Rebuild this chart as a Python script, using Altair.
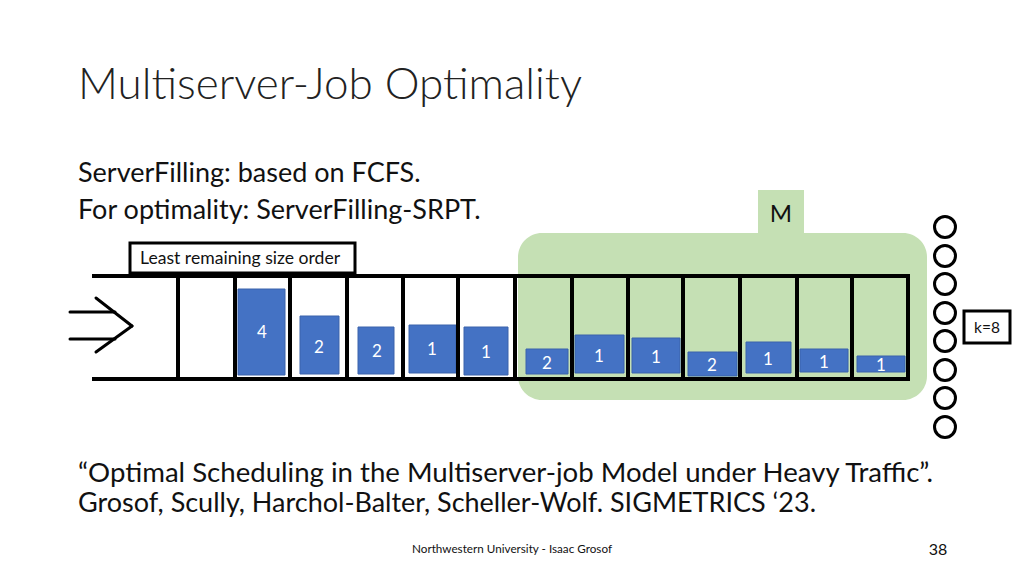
import altair as alt
import pandas as pd

FONT = "Lato"

# ---- geometry (pixel coordinates, y grows downward) ----
slot_edges = [178, 235, 290, 347, 403, 458, 515, 572, 628, 683, 740, 797, 852, 908]
queue_top, queue_bottom = 276, 379
queue_left, queue_right = 92, 910

job_sizes = [4, 2, 2, 1, 1, 2, 1, 1, 2, 1, 1, 1]
job_x0 = [238, 300, 358, 409, 464, 526, 575, 632, 688, 746, 800, 857]
job_x1 = [285, 339, 394, 456, 508, 568, 624, 680, 737, 791, 848, 905]
job_top = [289, 316, 327, 325, 327, 349, 335, 338, 352, 342, 349, 356]
job_bottom = [375, 374, 374, 373, 375, 374, 373, 373, 376, 373, 372, 372]
label_x = [262, 319, 377, 432, 486, 547, 599, 656, 712, 768, 824, 881]
label_y = [338, 353, 357, 355, 358, 369, 362, 363, 371, 365, 368, 371]

circle_x = 945
circle_y = [227, 256, 284, 313, 341, 370, 398, 427]

arrow_x0 = [70, 70, 96, 132]
arrow_y0 = [312, 339, 298, 326]
arrow_x1 = [115, 115, 132, 96]
arrow_y1 = [312, 339, 326, 352]

green_box = dict(x0=518, x1=927, y0=233, y1=400)
m_tab = dict(x0=758, x1=804, y0=190, y1=234)
order_box = dict(x0=130, x1=355, y0=243, y1=273)
k_box = dict(x0=964, x1=1010, y0=311, y1=343)

left_texts = ["ServerFilling: based on FCFS.",
              "For optimality: ServerFilling-SRPT.",
              "\u201cOptimal Scheduling in the Multiserver-job Model under Heavy Traffic\u201d.",
              "Grosof, Scully, Harchol-Balter, Scheller-Wolf. SIGMETRICS \u201823.",
              "Least remaining size order"]
left_x = [78, 78, 78, 78, 140]
left_y = [182, 219, 482, 512, 264]
left_fs = [27, 27, 27.6, 27, 17.6]

title_text = "Multiserver-Job Optimality"

center_texts = ["M", "k=8", "Northwestern University - Isaac Grosof", "38"]
center_x = [781, 987, 512, 938]
center_y = [222, 333, 553, 555]
center_fs = [24, 15.5, 11.7, 16]

# ---- scales: chart origin sits at page (8, 8) ----
xs = alt.Scale(domain=[8, 1016], nice=False, zero=False)
ys = alt.Scale(domain=[568, 8], nice=False, zero=False)


def X(f):
    return alt.X(f, type="quantitative", scale=xs, axis=None)


def Y(f):
    return alt.Y(f, type="quantitative", scale=ys, axis=None)


def box_df(b):
    return pd.DataFrame([b])


green = alt.Chart(box_df(green_box)).mark_rect(color="#c5e0b4", cornerRadius=24).encode(
    x=X("x0"), x2="x1", y=Y("y0"), y2="y1")
tab = alt.Chart(box_df(m_tab)).mark_rect(color="#c5e0b4").encode(
    x=X("x0"), x2="x1", y=Y("y0"), y2="y1")

jobs_df = pd.DataFrame(dict(x0=job_x0, x1=job_x1, top=job_top, bottom=job_bottom,
                            size=job_sizes, lx=label_x, ly=label_y))
jobs = alt.Chart(jobs_df).mark_rect(color="#4472c4", stroke="#3a62ab", strokeWidth=1).encode(
    x=X("x0"), x2="x1", y=Y("top"), y2="bottom")
job_labels = alt.Chart(jobs_df).mark_text(font=FONT, fontSize=17, color="white",
                                          align="center", baseline="alphabetic").encode(
    x=X("lx"), y=Y("ly"), text="size:N")

hlines_df = pd.DataFrame(dict(x0=[queue_left, queue_left], x1=[queue_right, queue_right],
                              y=[queue_top, queue_bottom]))
hlines = alt.Chart(hlines_df).mark_rule(color="black", strokeWidth=4).encode(
    x=X("x0"), x2="x1", y=Y("y"))
vlines_df = pd.DataFrame(dict(x=slot_edges, y0=queue_top, y1=queue_bottom))
vlines = alt.Chart(vlines_df).mark_rule(color="black", strokeWidth=4).encode(
    x=X("x"), y=Y("y0"), y2="y1")

arrow_df = pd.DataFrame(dict(x0=arrow_x0, y0=arrow_y0, x1=arrow_x1, y1=arrow_y1))
arrow = alt.Chart(arrow_df).mark_rule(color="black", strokeWidth=3, strokeCap="round").encode(
    x=X("x0"), y=Y("y0"), x2="x1", y2="y1")

order = alt.Chart(box_df(order_box)).mark_rect(fill="white", stroke="black", strokeWidth=3).encode(
    x=X("x0"), x2="x1", y=Y("y0"), y2="y1")
kbox = alt.Chart(box_df(k_box)).mark_rect(fill="white", stroke="black", strokeWidth=3).encode(
    x=X("x0"), x2="x1", y=Y("y0"), y2="y1")

circ_df = pd.DataFrame(dict(x=[circle_x] * len(circle_y), y=circle_y))
circles = alt.Chart(circ_df).mark_point(shape="circle", size=440, filled=False,
                                        color="black", strokeWidth=3, opacity=1).encode(
    x=X("x"), y=Y("y"))

left_df = pd.DataFrame(dict(t=left_texts, x=left_x, y=left_y, fs=left_fs))
left = alt.Chart(left_df).mark_text(font=FONT, align="left", baseline="alphabetic",
                                    color="#111111").encode(
    x=X("x"), y=Y("y"), text="t:N", size=alt.Size("fs:Q", scale=None, legend=None))

title_df = pd.DataFrame(dict(t=[title_text], x=[78], y=[99]))
title = alt.Chart(title_df).mark_text(font=FONT, fontSize=44, fontWeight=300, align="left",
                                      baseline="alphabetic", color="#222222").encode(
    x=X("x"), y=Y("y"), text="t:N")

center_df = pd.DataFrame(dict(t=center_texts, x=center_x, y=center_y, fs=center_fs))
center = alt.Chart(center_df).mark_text(font=FONT, align="center", baseline="alphabetic",
                                        color="#111111").encode(
    x=X("x"), y=Y("y"), text="t:N", size=alt.Size("fs:Q", scale=None, legend=None))

chart = alt.layer(green, tab, jobs, hlines, vlines, arrow, order, kbox, circles,
                  job_labels, left, title, center).properties(
    width=1008, height=560, padding=0, autosize="none", background="white"
).configure_view(stroke=None)

chart.save("out.html", embed_options={"renderer": "svg", "actions": False})
